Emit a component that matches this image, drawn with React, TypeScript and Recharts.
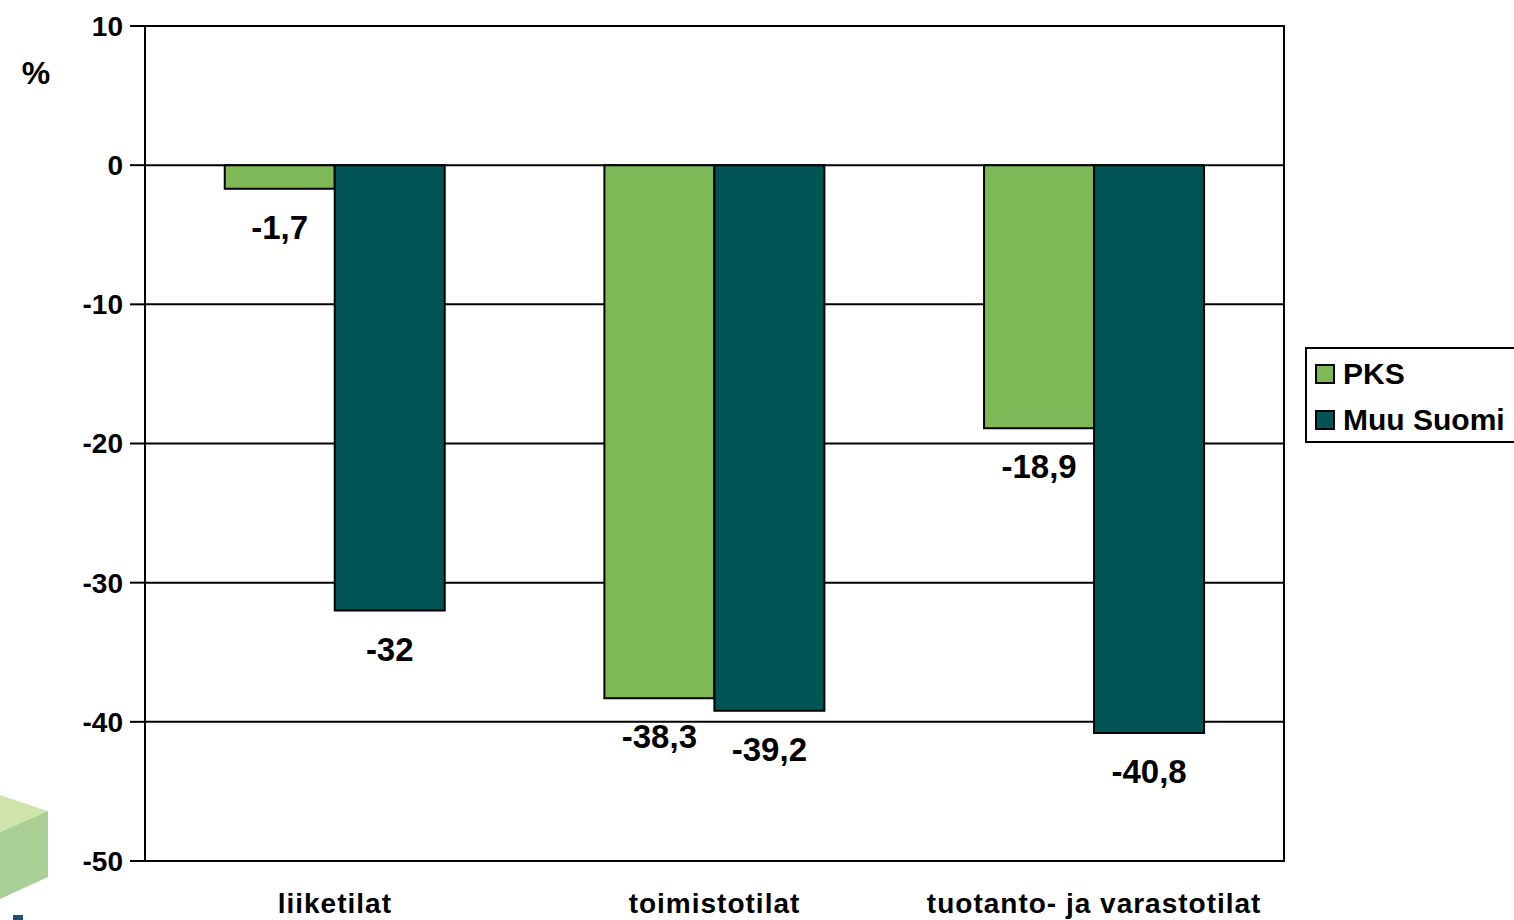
import {
  BarChart,
  Bar,
  XAxis,
  YAxis,
  CartesianGrid,
  ReferenceArea,
  Legend,
  LabelList,
  Label,
} from "recharts";

const categories = ["liiketilat", "toimistotilat", "tuotanto- ja varastotilat"];
const pks = [-1.7, -38.3, -18.9];
const muuSuomi = [-32, -39.2, -40.8];
const yTicks = [10, 0, -10, -20, -30, -40, -50];

const data = categories.map((name, i) => ({ name, pks: pks[i], muu: muuSuomi[i] }));

const FONT = "'Liberation Sans', Arial, sans-serif";
const GREEN = "#7DB957";
const TEAL = "#005454";

const fmt = (v: number) => String(v).replace(".", ",");

function ValueLabel(props: any) {
  const { x, y, width, height, value } = props;
  const bottom = Math.max(y, y + height);
  return (
    <text
      x={x + width / 2}
      y={bottom + 50}
      textAnchor="middle"
      fontFamily={FONT}
      fontWeight="bold"
      fontSize={33}
      fill="#000"
    >
      {fmt(value)}
    </text>
  );
}

function CategoryTick(props: any) {
  const { x, payload } = props;
  return (
    <text
      x={x}
      y={913}
      textAnchor="middle"
      fontFamily={FONT}
      fontWeight="bold"
      fontSize={28}
      letterSpacing={1}
      fill="#000"
    >
      {payload.value}
    </text>
  );
}

function LegendBox() {
  const items = [
    { label: "PKS", color: GREEN },
    { label: "Muu Suomi", color: TEAL },
  ];
  return (
    <div
      style={{
        width: 207,
        height: 92,
        border: "2px solid #000",
        background: "#fff",
        fontFamily: FONT,
        fontWeight: "bold",
        fontSize: 30,
        boxSizing: "content-box",
      }}
    >
      {items.map((it, i) => (
        <div
          key={it.label}
          style={{ display: "flex", alignItems: "center", height: 46, paddingLeft: 8, marginTop: i === 0 ? 2 : 0 }}
        >
          <span
            style={{
              display: "inline-block",
              width: 16,
              height: 16,
              background: it.color,
              border: "2px solid #000",
              marginRight: 8,
            }}
          />
          {it.label}
        </div>
      ))}
    </div>
  );
}

export default function App() {
  return (
    <div style={{ position: "absolute", left: 0, top: 0, width: 1514, height: 920, background: "#fff" }}>
      <BarChart
        width={1514}
        height={920}
        data={data}
        margin={{ top: 26, right: 19, left: 0, bottom: 0 }}
        barCategoryGap="21%"
        barGap={0}
      >
        <CartesianGrid horizontal vertical={false} stroke="#000" strokeWidth={2} />
        <ReferenceArea y1={-50} y2={10} fill="none" stroke="#000" strokeWidth={2} ifOverflow="visible" />
        <XAxis dataKey="name" height={59} axisLine={false} tickLine={false} tick={<CategoryTick />} interval={0} />
        <YAxis
          width={145}
          domain={[-50, 10]}
          ticks={yTicks}
          interval={0}
          axisLine={{ stroke: "#000", strokeWidth: 2 }}
          tickLine={{ stroke: "#000", strokeWidth: 2 }}
          tickSize={15}
          tickMargin={7}
          tick={{ fill: "#000", fontFamily: FONT, fontWeight: "bold", fontSize: 28 }}
        >
          <Label
            content={() => (
              <text x={36} y={84} textAnchor="middle" fontFamily={FONT} fontWeight="bold" fontSize={32} fill="#000">
                %
              </text>
            )}
          />
        </YAxis>
        <Legend
          layout="horizontal"
          verticalAlign="middle"
          align="right"
          content={() => <LegendBox />}
          wrapperStyle={{ position: "absolute", left: 1305, top: 347, width: 211, height: 96 }}
        />
        <Bar dataKey="pks" name="PKS" fill={GREEN} stroke="#000" strokeWidth={2} isAnimationActive={false}>
          <LabelList dataKey="pks" content={<ValueLabel />} />
        </Bar>
        <Bar dataKey="muu" name="Muu Suomi" fill={TEAL} stroke="#000" strokeWidth={2} isAnimationActive={false}>
          <LabelList dataKey="muu" content={<ValueLabel />} />
        </Bar>
      </BarChart>
      <svg
        width={60}
        height={130}
        style={{ position: "absolute", left: 0, top: 790, pointerEvents: "none" }}
      >
        <polygon points="0,5 48,21 0,42" fill="#CFE4AA" />
        <polygon points="0,42 48,21 48,87 0,109" fill="#AACF96" />
        <rect x={13} y={125} width={10} height={5} fill="#1F4E79" />
      </svg>
    </div>
  );
}
